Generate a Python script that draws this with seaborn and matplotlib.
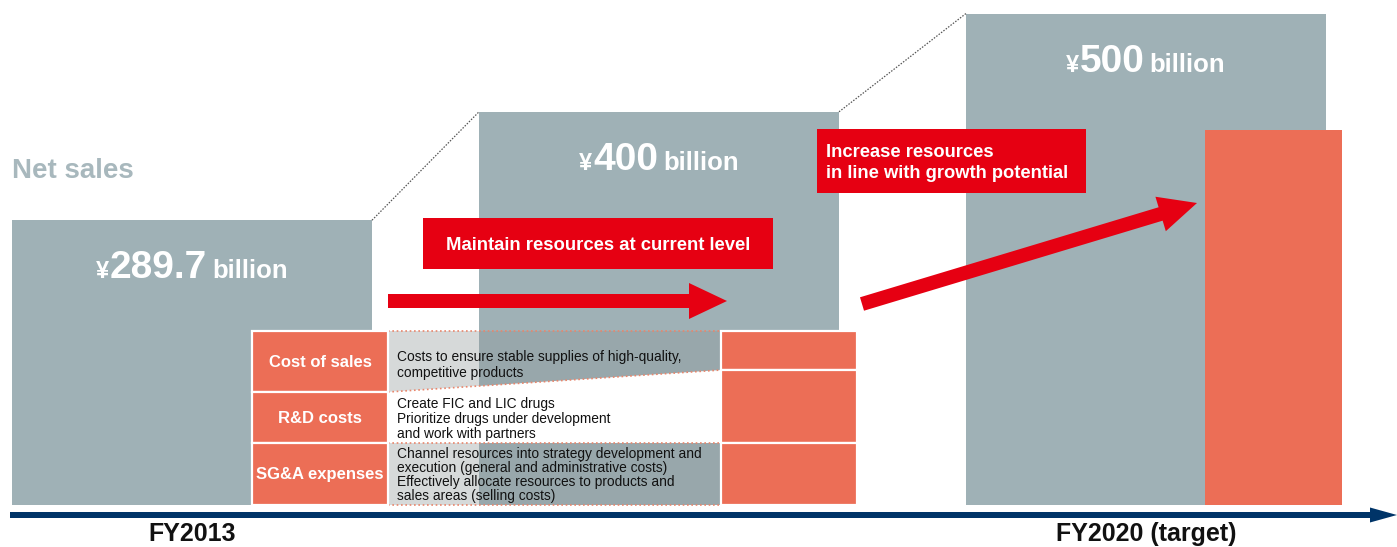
import matplotlib
matplotlib.use("Agg")
import matplotlib.pyplot as plt
import matplotlib.transforms as mtransforms
from matplotlib.patches import Rectangle, Polygon, FancyArrow
import pandas as pd
import seaborn as sns

# ---- data -------------------------------------------------------------
periods = ["FY2013", "FY2016", "FY2020 (target)"]
period_labels = ["FY2013", "", "FY2020 (target)"]
net_sales = [289.7, 400, 500]                  # billion yen
sales_text = ["289.7", "400", "500"]
cost_items = ["Cost of sales", "R&D costs", "SG&A expenses"]
cost_notes = [
    "Costs to ensure stable supplies of high-quality,\ncompetitive products",
    "Create FIC and LIC drugs\nPrioritize drugs under development\nand work with partners",
    "Channel resources into strategy development and\nexecution (general and administrative costs)\n"
    "Effectively allocate resources to products and\nsales areas (selling costs)",
]
messages = ["Maintain resources at current level",
            "Increase resources\nin line with growth potential"]

# ---- layout -----------------------------------------------------------
W, H = 1397, 547
BASE = 505            # baseline, px from top
PX_PER_B = 0.983      # px per billion yen
bar_centers = [192, 659, 1146]
bar_w = 360

GRAY = "#9FB1B6"
SALMON = "#EC6E56"
RED = "#E60012"
NAVY = "#003468"
FONT = ["Liberation Sans", "DejaVu Sans"]

sns.set_theme(style="white")
plt.rcParams["font.family"] = FONT

fig = plt.figure(figsize=(W / 100, H / 100), dpi=100)
ax = fig.add_axes([0, 0, 1, 1])

df = pd.DataFrame({"x": bar_centers, "sales": net_sales})
min_gap = min(b - a for a, b in zip(bar_centers[:-1], bar_centers[1:]))
sns.barplot(data=df, x="x", y="sales", native_scale=True, width=bar_w / min_gap,
            color=GRAY, saturation=1, errorbar=None, linewidth=0, ax=ax, zorder=1)
ax.set_xlim(0, W)
ax.set_ylim(-(H - BASE) / PX_PER_B, BASE / PX_PER_B)
ax.set_axis_off()

# pixel coordinates, origin top-left
px = mtransforms.Affine2D().scale(1 / W, -1 / H).translate(0, 1) + fig.transFigure


def ypx(v):
    return BASE - v * PX_PER_B


# dotted connectors between bar tops
for i in range(len(net_sales) - 1):
    x0 = bar_centers[i] + bar_w / 2
    x1 = bar_centers[i + 1] - bar_w / 2
    ax.plot([x0, x1], [net_sales[i], net_sales[i + 1]], color="#555555",
            lw=0.9, ls=(0, (1.2, 1.2)), zorder=2)

# description bands between the two cost stacks
bx0, bx1 = 388, 721
band_gray = dict(facecolor="#8E9698", alpha=0.36, edgecolor="none", transform=px, zorder=3)
ax.add_patch(Polygon([(bx0, 331), (bx1, 331), (bx1, 370), (bx0, 392)], **band_gray))
ax.add_patch(Polygon([(bx0, 392), (bx1, 370), (bx1, 443), (bx0, 443)],
                     facecolor="white", edgecolor="none", transform=px, zorder=3))
ax.add_patch(Polygon([(bx0, 443), (bx1, 443), (bx1, 505), (bx0, 505)], **band_gray))
dot = dict(color="#E8866C", lw=1.2, ls=(0, (1.0, 1.6)), transform=px, zorder=4)
for (xa, ya), (xb, yb) in [((bx0, 331), (bx1, 331)), ((bx0, 392), (bx1, 370)),
                           ((bx0, 443), (bx1, 443)), ((bx0, 505), (bx1, 505))]:
    ax.plot([xa, xb], [ya, yb], **dot)

# cost stacks
left_stack = [(331, 392), (392, 443), (443, 505)]
mid_stack = [(331, 370), (370, 443), (443, 505)]
for (t, b) in left_stack:
    ax.add_patch(Rectangle((252, t), 136, b - t, facecolor=SALMON, edgecolor="white",
                           lw=1.6, transform=px, zorder=5))
for (t, b) in mid_stack:
    ax.add_patch(Rectangle((721, t), 136, b - t, facecolor=SALMON, edgecolor="white",
                           lw=1.6, transform=px, zorder=5))
ax.add_patch(Rectangle((1205, 130), 137, BASE - 130, facecolor=SALMON, edgecolor="none",
                       transform=px, zorder=5))

for item, (t, b) in zip(cost_items, left_stack):
    ax.text(320, (t + b) / 2 + 1, item, transform=px, ha="center", va="center",
            color="white", fontsize=12, fontweight="bold", zorder=6)
note_y = [365, 419, 475]
note_ls = [1.2, 1.13, 0.99]
for note, y, ls in zip(cost_notes, note_y, note_ls):
    ax.text(397, y, note, transform=px, ha="left", va="center", color="#111111",
            fontsize=9.9, linespacing=ls, zorder=6)

# arrows
arrow = dict(width=14, head_width=36, head_length=38, length_includes_head=True,
             color=RED, transform=px, zorder=6, lw=0)
ax.add_patch(FancyArrow(388, 301, 339, 0, **arrow))
ax.add_patch(FancyArrow(862, 304, 335, -101, **arrow))

# message boxes
ax.add_patch(Rectangle((423, 218), 350, 51, facecolor=RED, edgecolor="none",
                       transform=px, zorder=7))
ax.text(598, 245, messages[0], transform=px, ha="center", va="center", color="white",
        fontsize=13.3, fontweight="bold", zorder=8)
ax.add_patch(Rectangle((817, 129), 269, 64, facecolor=RED, edgecolor="none",
                       transform=px, zorder=7))
ax.text(826, 163, messages[1], transform=px, ha="left", va="center", color="white",
        fontsize=13.2, fontweight="bold", linespacing=1.25, zorder=8)

# sales labels: small yen sign, large figure, small unit
num_left = [110, 593, 1080]
unit_left = [212, 663, 1149]
for v, s, xn, xu in zip(net_sales, sales_text, num_left, unit_left):
    yb = ypx(v) + 58
    ax.text(xn - 1, yb, "¥", transform=px, ha="right", va="baseline", color="white",
            fontsize=17, fontweight="bold", zorder=8)
    ax.text(xn, yb, s, transform=px, ha="left", va="baseline", color="white",
            fontsize=28, fontweight="bold", zorder=8)
    ax.text(xu, yb, "billion", transform=px, ha="left", va="baseline", color="white",
            fontsize=18.5, fontweight="bold", zorder=8)

ax.text(12, 178, "Net sales", transform=px, ha="left", va="baseline", color="#A8B8BD",
        fontsize=20, fontweight="bold", zorder=8)

# time axis
ax.add_patch(FancyArrow(10, 515, W - 10, 0, width=6, head_width=15, head_length=27,
                        length_includes_head=True, color=NAVY, lw=0, transform=px, zorder=8))
for c, lab in zip(bar_centers, period_labels):
    if lab:
        ax.text(c, 541, lab, transform=px, ha="center", va="baseline", color="#111111",
                fontsize=18, fontweight="bold", zorder=8)

fig.savefig("out.png", dpi=100)
